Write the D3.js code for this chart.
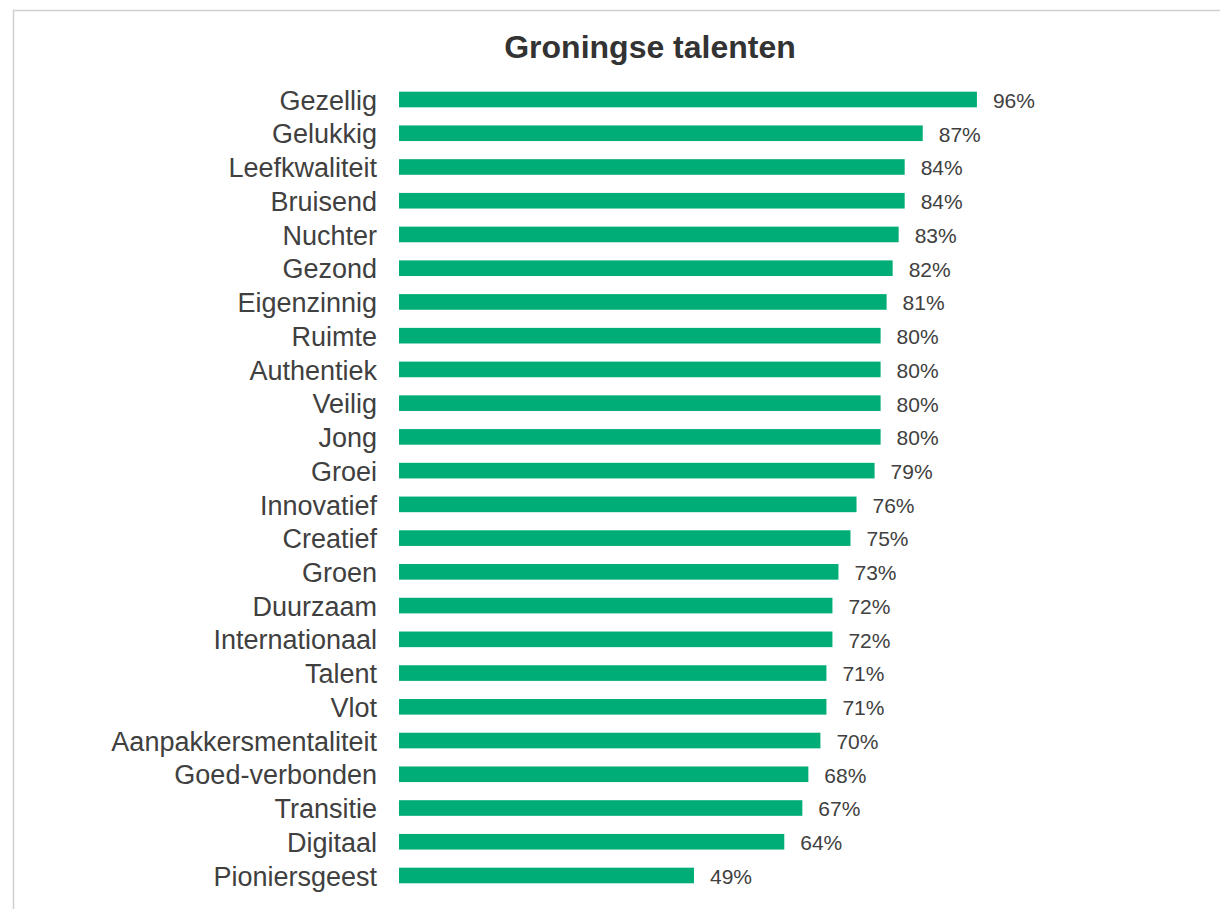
<!DOCTYPE html>
<html>
<head>
<meta charset="utf-8">
<script src="https://cdn.jsdelivr.net/npm/d3@7"></script>
<style>
  html, body { margin: 0; padding: 0; background: #ffffff; }
  svg { display: block; }
</style>
</head>
<body>
<svg id="chart" width="1220" height="909"></svg>
<script>
const title = "Groningse talenten";
const categories = [
  "Gezellig", "Gelukkig", "Leefkwaliteit", "Bruisend", "Nuchter", "Gezond",
  "Eigenzinnig", "Ruimte", "Authentiek", "Veilig", "Jong", "Groei",
  "Innovatief", "Creatief", "Groen", "Duurzaam", "Internationaal", "Talent",
  "Vlot", "Aanpakkersmentaliteit", "Goed-verbonden", "Transitie", "Digitaal",
  "Pioniersgeest"
];
const values = [96, 87, 84, 84, 83, 82, 81, 80, 80, 80, 80, 79, 76, 75, 73, 72, 72, 71, 71, 70, 68, 67, 64, 49];

const svg = d3.select("#chart");

// outer chart border (extends beyond the visible area on right/bottom)
svg.append("rect")
  .attr("x", 13.5).attr("y", 10.5)
  .attr("width", 1400).attr("height", 1200)
  .attr("fill", "none")
  .attr("stroke", "#d0d0d0")
  .attr("stroke-width", 1.5);

const x = d3.scaleLinear().domain([0, 100]).range([399, 1001]);
const y = d3.scaleBand().domain(categories).range([91.7, 883.3])
  .paddingInner(0.537).paddingOuter(0);

const data = categories.map((c, i) => ({ cat: c, val: values[i] }));

svg.append("text")
  .attr("x", 650).attr("y", 58)
  .attr("text-anchor", "middle")
  .attr("font-family", "'Liberation Sans', Arial, sans-serif")
  .attr("font-weight", "bold")
  .attr("font-size", 32)
  .attr("fill", "#333333")
  .text(title);

const g = svg.append("g");

g.selectAll("rect.bar").data(data).enter().append("rect")
  .attr("class", "bar")
  .attr("x", x(0))
  .attr("y", d => y(d.cat))
  .attr("width", d => x(d.val) - x(0))
  .attr("height", y.bandwidth())
  .attr("fill", "#00ad76");

// category axis
const yAxis = d3.axisLeft(y).tickSize(0).tickPadding(22);
const ax = svg.append("g").attr("transform", `translate(${x(0)},1.5)`).call(yAxis);
ax.select(".domain").remove();
ax.selectAll("text")
  .attr("font-family", "'Liberation Sans', Arial, sans-serif")
  .attr("font-size", 27)
  .attr("fill", "#404040");

g.selectAll("text.val").data(data).enter().append("text")
  .attr("class", "val")
  .attr("x", d => x(d.val) + 16)
  .attr("y", d => y(d.cat) + y.bandwidth() / 2 + 1)
  .attr("dy", "0.35em")
  .attr("font-family", "'Liberation Sans', Arial, sans-serif")
  .attr("font-size", 21)
  .attr("fill", "#404040")
  .text(d => d.val + "%");
</script>
</body>
</html>
